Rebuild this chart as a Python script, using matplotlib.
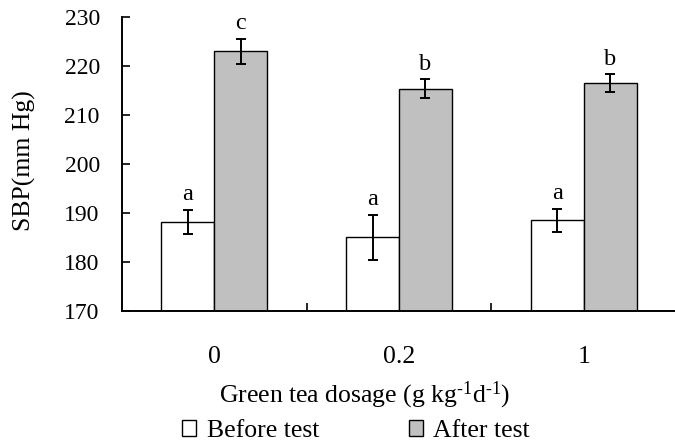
import numpy as np
import matplotlib
matplotlib.use('Agg')
import matplotlib.pyplot as plt
from matplotlib.patches import Patch

# Datos
dosis = ['0', '0.2', '1']
antes = [188.2, 185.0, 188.5]
antes_err = [2.5, 4.6, 2.3]
despues = [223.0, 215.4, 216.5]
despues_err = [2.5, 1.9, 1.8]
letras_antes = ['a', 'a', 'a']
letras_despues = ['c', 'b', 'b']
y_ticks = [170, 180, 190, 200, 210, 220, 230]

plt.rcParams['font.family'] = ['Liberation Serif', 'DejaVu Serif']
plt.rcParams['mathtext.fontset'] = 'custom'
plt.rcParams['mathtext.rm'] = 'Liberation Serif'
plt.rcParams['mathtext.it'] = 'Liberation Serif'
plt.rcParams['font.size'] = 18.5

fig = plt.figure(figsize=(6.75, 4.44), dpi=100)
ax = fig.add_axes([122 / 675, 1 - 311 / 444, 554 / 675, 294 / 444])

x = np.arange(len(dosis))
w = 0.287
err_kw = dict(ecolor='black', elinewidth=1.4, capsize=3.6, capthick=1.4)
ax.bar(x - w / 2, [v - 170 for v in antes], w, bottom=170, color='white',
       edgecolor='black', linewidth=1.0, yerr=antes_err, error_kw=err_kw)
ax.bar(x + w / 2, [v - 170 for v in despues], w, bottom=170, color='#c0c0c0',
       edgecolor='black', linewidth=1.0, yerr=despues_err, error_kw=err_kw)

# Letras de significancia
for i in range(len(dosis)):
    ax.annotate(letras_antes[i], (x[i] - w / 2, antes[i] + antes_err[i]),
                xytext=(0, 7), textcoords='offset points', ha='center', va='baseline',
                fontsize=17.5)
    ax.annotate(letras_despues[i], (x[i] + w / 2, despues[i] + despues_err[i]),
                xytext=(0, 7), textcoords='offset points', ha='center', va='baseline',
                fontsize=17.5)

ax.set_ylim(170, 230)
ax.set_xlim(-0.5, 2.5)
ax.set_yticks(y_ticks)
ax.set_xticks(x)
ax.set_xticklabels(dosis)
ax.set_xticks([0.5, 1.5], minor=True)
ax.tick_params(axis='y', direction='in', length=6, width=1.2, pad=16, labelsize=17)
ax.tick_params(axis='x', which='major', length=0, pad=25)
ax.tick_params(axis='x', which='minor', direction='in', length=6, width=1.2)
for s in ['top', 'right']:
    ax.spines[s].set_visible(False)
for s in ['left', 'bottom']:
    ax.spines[s].set_linewidth(1.4)

fig.text(365 / 675, 1 - 402 / 444, 'Green tea dosage (g kg$^{\u20101}$d$^{\u20101}$)',
         ha='center', va='baseline')
fig.text(24 / 675, 1 - 161 / 444, 'SBP(mm Hg)', rotation=90, ha='center', va='center')

handles = [Patch(facecolor='white', edgecolor='black', linewidth=1.0),
           Patch(facecolor='#c0c0c0', edgecolor='black', linewidth=1.0)]
fig.legend(handles, ['Before test', 'After test'], loc='center', ncol=2,
           bbox_to_anchor=(356 / 675, 1 - 431 / 444), frameon=False,
           handlelength=0.55, handleheight=0.55, handletextpad=0.4,
           columnspacing=3.5, borderpad=0, borderaxespad=0)

fig.savefig('out.png', dpi=100)
